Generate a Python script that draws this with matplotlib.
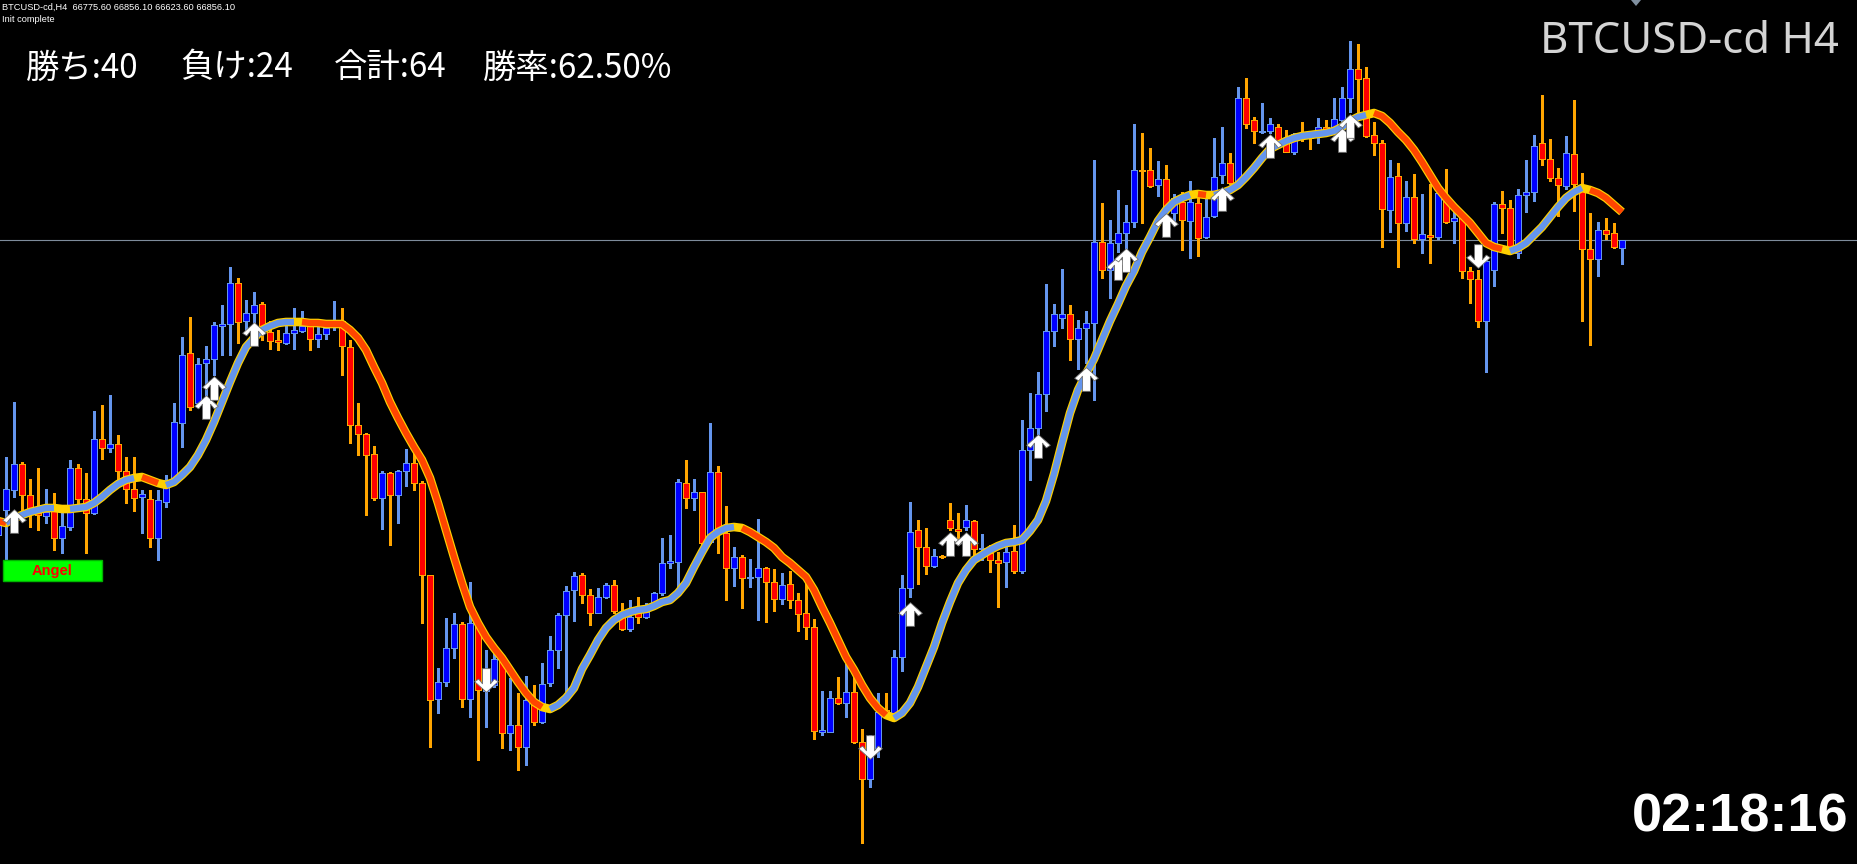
import matplotlib
matplotlib.use("Agg")
import matplotlib.pyplot as plt
import numpy as np
from matplotlib.path import Path
from matplotlib.patches import Rectangle, Polygon

# ---------------- data ----------------
opens = [63910, 64160, 64360, 64620, 64310, 64130, 64100, 64190, 63880, 63990,
         64580, 64270, 64130, 64870, 64780, 64820, 64550, 64370, 64290, 64270,
         63880, 64240, 64460, 65030, 65730, 65230, 65630, 65670, 66000, 66020,
         66430, 66050, 66130, 66220, 65940, 65860, 65830, 65930, 65950, 66000,
         65870, 65920, 65990, 66050, 65790, 65010, 64920, 64720, 64280, 64530,
         64310, 64550, 64630, 64430, 63510, 62270, 62440, 62780, 63020, 62270,
         63020, 62350, 62410, 62670, 61930, 62010, 61790, 62260, 62040, 62430,
         62760, 63110, 63360, 63510, 63310, 63130, 63290, 63410, 63140, 62970,
         63140, 63090, 63190, 63330, 63630, 63640, 64430, 64280, 64340, 63840,
         64540, 63930, 63580, 63690, 63480, 63490, 63580, 63440, 63270, 63420,
         63260, 63130, 62990, 61940, 61940, 62280, 62230, 62340, 61840, 61470,
         61780, 62160, 62130, 62690, 63380, 63960, 63790, 63600, 63700, 64060,
         63970, 63990, 64050, 63770, 63730, 63660, 63640, 63750, 63550, 64760,
         64980, 65320, 65950, 66080, 66120, 65870, 65980, 66030, 66840, 66560,
         66830, 66930, 67040, 67560, 67560, 67410, 67470, 67130, 67240, 67050,
         67230, 66890, 67100, 67510, 67630, 67430, 68280, 68060, 67940, 67950,
         67990, 67850, 67740, 67930, 67910, 67950, 67990, 67970, 68060, 68280,
         68570, 68480, 67910, 67830, 67160, 67500, 67030, 67290, 66870, 66910,
         66890, 67260, 67050, 67080, 66550, 66470, 66050, 66560, 67220, 67180,
         66730, 67310, 67340, 67830, 67670, 67480, 67400, 67720, 67410, 66770,
         66670, 66960, 66930, 66775.6]

highs = [64080, 64690, 65240, 64640, 64470, 64580, 64370, 64330, 64190, 64660,
         64620, 64530, 65150, 65210, 65310, 64910, 64690, 64690, 64360, 64360,
         64360, 64510, 65230, 65890, 66090, 65680, 65800, 66040, 66210, 66590,
         66480, 66260, 66340, 66240, 66050, 65960, 66010, 66180, 66150, 66060,
         66010, 66040, 66250, 66180, 65860, 65230, 64930, 64800, 64550, 64540,
         64560, 64770, 64730, 64450, 63510, 62580, 63080, 63130, 63040, 63440,
         63020, 62760, 62760, 62690, 62480, 62330, 62500, 62410, 62630, 62900,
         63130, 63400, 63540, 63530, 63370, 63380, 63430, 63460, 63230, 63260,
         63290, 63230, 63340, 63880, 63910, 64470, 64660, 64470, 64340, 65030,
         64600, 64200, 63790, 63710, 63670, 64070, 63590, 63570, 63530, 63550,
         63330, 63430, 63070, 62350, 62350, 62490, 62620, 62530, 61970, 61910,
         62330, 62330, 62760, 63510, 64240, 64060, 63980, 63770, 63710, 64230,
         64130, 64210, 64060, 63920, 63810, 63740, 63830, 64010, 65060, 65330,
         65540, 66420, 66220, 66570, 66210, 66060, 66150, 67660, 67230, 67060,
         67360, 67210, 68020, 67930, 67780, 67650, 67610, 67320, 67340, 67450,
         67310, 67330, 67880, 67990, 67730, 68390, 68480, 68090, 68230, 68080,
         68020, 67960, 67930, 68040, 67930, 68080, 68060, 68280, 68390, 68850,
         68820, 68590, 68040, 67860, 67660, 67630, 67450, 67520, 67320, 67420,
         67360, 67570, 67160, 67090, 66590, 66560, 66660, 67240, 67350, 67260,
         67370, 67660, 67910, 68310, 67870, 67580, 67900, 68260, 67530, 67130,
         67040, 67080, 67030, 66856.1]

lows = [63760, 63480, 64290, 64160, 63990, 63960, 64030, 63760, 63730, 63960,
        64160, 63730, 64120, 64670, 64740, 64440, 64230, 64150, 63930, 63790,
        63660, 64190, 64440, 64790, 65160, 65190, 65290, 65510, 65710, 65710,
        65830, 65960, 66030, 65860, 65770, 65760, 65820, 65770, 65940, 65760,
        65790, 65870, 65960, 65510, 64830, 64710, 64110, 64260, 63970, 63810,
        64030, 64400, 64360, 63030, 61790, 62130, 62400, 62680, 62190, 62090,
        61660, 61990, 62390, 61780, 61760, 61560, 61610, 62010, 62030, 62400,
        62580, 62330, 63050, 63230, 63010, 63130, 63280, 63130, 62960, 62950,
        63030, 63080, 63180, 63310, 63580, 63390, 64180, 64160, 63740, 63830,
        63730, 63260, 63400, 63180, 63390, 63060, 63040, 63150, 63220, 63180,
        62950, 62870, 61870, 61910, 61940, 62220, 62090, 61830, 60830, 61390,
        61690, 62110, 62130, 62550, 63290, 63420, 63520, 63590, 63680, 63960,
        63860, 63960, 63660, 63660, 63540, 63190, 63390, 63530, 63530, 64460,
        64920, 65150, 65800, 65980, 65660, 65570, 65630, 65260, 66480, 66280,
        66740, 66700, 66990, 67030, 67390, 67300, 67090, 67050, 66760, 66680,
        66700, 66880, 67090, 67430, 67420, 67410, 67980, 67830, 67930, 67930,
        67830, 67740, 67720, 67850, 67770, 67830, 67930, 67960, 68040, 68140,
        68140, 67890, 67710, 66790, 66940, 66590, 66950, 66830, 66730, 66630,
        66870, 67030, 66830, 66480, 66230, 65990, 65540, 66400, 66930, 66720,
        66680, 67140, 67250, 67610, 67450, 67100, 67370, 67150, 66050, 65810,
        66500, 66870, 66780, 66623.6]

closes = [64010, 64370, 64620, 64310, 64160, 64110, 64140, 63880, 64000, 64580,
          64270, 64130, 64870, 64780, 64820, 64550, 64370, 64280, 64320, 63880,
          64260, 64460, 65040, 65710, 65190, 65620, 65670, 66010, 66020, 66430,
          66040, 66130, 66210, 65940, 65850, 65840, 65930, 65960, 66000, 65870,
          65920, 65980, 66040, 65800, 65010, 64920, 64710, 64280, 64530, 64310,
          64550, 64630, 64430, 63510, 62260, 62440, 62780, 63020, 62270, 63030,
          62360, 62380, 62670, 61930, 62010, 61790, 62260, 62040, 62420, 62760,
          63110, 63350, 63500, 63310, 63130, 63290, 63410, 63150, 62970, 63090,
          63090, 63140, 63330, 63630, 63650, 64440, 64280, 64340, 63830, 64540,
          63930, 63580, 63690, 63480, 63490, 63580, 63440, 63270, 63410, 63260,
          63120, 62990, 61950, 61960, 62280, 62230, 62340, 61840, 61470, 61760,
          62140, 62130, 62690, 63380, 63940, 63790, 63600, 63700, 63690, 63980,
          63950, 64060, 63770, 63780, 63660, 63630, 63740, 63550, 64760, 64980,
          65320, 65950, 66120, 66120, 65870, 65980, 66030, 66840, 66560, 66830,
          66930, 67040, 67560, 67550, 67400, 67470, 67160, 67280, 67060, 67240,
          66880, 67090, 67490, 67630, 67430, 68280, 68020, 67950, 67950, 68020,
          67850, 67740, 67920, 67890, 67880, 67990, 67960, 68070, 68280, 68570,
          68470, 67900, 67830, 67170, 67490, 67030, 67290, 66870, 66920, 66890,
          67330, 67040, 67080, 66550, 66470, 66050, 66650, 67220, 67180, 66730,
          67310, 67340, 67800, 67670, 67480, 67410, 67730, 67420, 66770, 66670,
          66960, 66920, 66790, 66856.1]

# moving average indicator buffer
ma = [64050, 64030, 64080, 64110, 64140, 64160, 64180, 64180, 64170, 64170,
      64180, 64190, 64230, 64290, 64360, 64420, 64460, 64480, 64490, 64460,
      64430, 64410, 64440, 64510, 64590, 64710, 64860, 65040, 65240, 65440,
      65630, 65790, 65880, 65960, 66000, 66030, 66040, 66040, 66040, 66030,
      66030, 66020, 66020, 66020, 65960, 65880, 65760, 65590, 65430, 65240,
      65080, 64930, 64790, 64660, 64480, 64230, 63960, 63690, 63430, 63190,
      63030, 62890, 62780, 62680, 62560, 62440, 62330, 62240, 62190, 62170,
      62210, 62280, 62380, 62570, 62710, 62860, 62980, 63060, 63110, 63140,
      63160, 63170, 63200, 63240, 63260, 63330, 63430, 63590, 63740, 63880,
      63940, 63980, 63990, 63980, 63940, 63890, 63840, 63780, 63690, 63630,
      63560, 63490, 63360, 63190, 63030, 62860, 62690, 62560, 62410, 62280,
      62180, 62110, 62080, 62130, 62230, 62390, 62590, 62790, 63030, 63240,
      63430, 63560, 63660, 63710, 63760, 63800, 63830, 63840, 63860, 63950,
      64060, 64250, 64520, 64830, 65130, 65360, 65520, 65670, 65860, 66050,
      66220, 66400, 66550, 66740, 66890, 67050, 67160, 67240, 67280, 67310,
      67320, 67310, 67310, 67330, 67360, 67410, 67490, 67580, 67680, 67770,
      67810, 67850, 67880, 67900, 67910, 67920, 67930, 67950, 67990, 68050,
      68090, 68110, 68130, 68100, 68030, 67940, 67860, 67760, 67640, 67510,
      67380, 67280, 67190, 67110, 67030, 66930, 66830, 66790, 66770, 66750,
      66780, 66830, 66910, 66990, 67090, 67190, 67280, 67340, 67380, 67360,
      67330, 67280, 67210, 67140]

# indicator state per bar: 1 rising, -1 falling, 0 neutral
ma_trend = [-1, -1, 1, 1, 1, 1, 1, 1, 0, 0,
            1, 1, 1, 1, 1, 1, 1, 1, 0, -1,
            -1, 0, 1, 1, 1, 1, 1, 1, 1, 1,
            1, 1, 1, 1, 1, 1, 1, 1, 0, -1,
            -1, -1, -1, -1, -1, -1, -1, -1, -1, -1,
            -1, -1, -1, -1, -1, -1, -1, -1, -1, -1,
            -1, -1, -1, -1, -1, -1, -1, -1, -1, 0,
            1, 1, 1, 1, 1, 1, 1, 1, 1, 1,
            1, 1, 1, 1, 1, 1, 1, 1, 1, 1,
            1, 1, 1, 0, -1, -1, -1, -1, -1, -1,
            -1, -1, -1, -1, -1, -1, -1, -1, -1, -1,
            -1, -1, 0, 1, 1, 1, 1, 1, 1, 1,
            1, 1, 1, 1, 1, 1, 1, 1, 1, 1,
            1, 1, 1, 1, 1, 1, 1, 1, 1, 1,
            1, 1, 1, 1, 1, 1, 1, 1, 1, 1,
            0, -1, 0, 1, 1, 1, 1, 1, 1, 1,
            1, 1, 1, 1, 1, 1, 1, 1, 1, 1,
            1, 1, 0, -1, -1, -1, -1, -1, -1, -1,
            -1, -1, -1, -1, -1, -1, -1, -1, -1, 0,
            1, 1, 1, 1, 1, 1, 1, 1, 1, 0,
            -1, -1, -1, -1]

buy_bars = [2, 26, 27, 32, 114, 119, 121, 130, 136, 140, 141, 146, 153, 159, 168, 169]
buy_prices = [64050, 65190, 65380, 65920, 63120, 63820, 63820, 64800, 65470,
              66580, 66660, 67010, 67270, 67800, 67860, 68000]
sell_bars = [61, 109, 185]
sell_prices = [62460, 61790, 66700]

bid_price = 66856.1
stats_labels = ["勝ち:40", "負け:24", "合計:64", "勝率:62.50%"]
symbol_title = "BTCUSD-cd H4"
header_line = "BTCUSD-cd,H4  66775.60 66856.10 66623.60 66856.10"
status_line = "Init complete"
clock_text = "02:18:16"
badge_text = "Angel"

# ---------------- figure ----------------
W, H = 1858, 864
fig = plt.figure(figsize=(W / 100, H / 100), dpi=100)
fig.patch.set_facecolor("black")
ax = fig.add_axes([0, 0, 1, 1])
ax.set_facecolor("black")
ax.set_axis_off()

n = len(opens)
idx = np.arange(n)
o = np.array(opens, float)
h = np.array(highs, float)
l = np.array(lows, float)
c = np.array(closes, float)
bull = c >= o

BULL_FILL, BULL_EDGE = "#0000FF", "#6495ED"
BEAR_FILL, BEAR_EDGE = "#FF0000", "#FFA500"

ax.set_xlim(0.25, 0.25 + W / 8.0)
ax.set_ylim(60620, 69260)

ax.axhline(bid_price, color="#7E8C9C", lw=0.8, zorder=1)

wick_cols = [BULL_EDGE if b else BEAR_EDGE for b in bull]
ax.vlines(idx, l, h, colors=wick_cols, lw=0.8, zorder=2, antialiased=False)

body_bottom = np.minimum(o, c)
body_h = np.abs(c - o)
ax.bar(idx, body_h, bottom=body_bottom, width=0.64,
       color=[BULL_FILL if b else BEAR_FILL for b in bull],
       edgecolor=wick_cols, lw=0.7, zorder=3, antialiased=False)

# moving average: gold underlay, colored runs on top
ma_arr = np.array(ma, float)
ax.plot(idx, ma_arr, color="#FFD000", lw=6.2, solid_capstyle="butt",
        solid_joinstyle="round", zorder=4)
UP_COL, DN_COL = "#6495ED", "#FF4500"
i = 0
while i < n:
    t = ma_trend[i]
    if t == 0:
        i += 1
        continue
    j = i
    while j + 1 < n and ma_trend[j + 1] == t:
        j += 1
    s = max(i - 1, 0)
    ax.plot(idx[s:j + 1], ma_arr[s:j + 1], color=UP_COL if t > 0 else DN_COL,
            lw=4.5, solid_capstyle="butt", solid_joinstyle="round", zorder=5)
    i = j + 1

# signal arrows
up_verts = [(0, 1), (1, 0.1), (0.66, -0.12), (0.34, 0.28), (0.34, -1),
            (-0.34, -1), (-0.34, 0.28), (-0.66, -0.12), (-1, 0.1), (0, 1)]
codes = [Path.MOVETO] + [Path.LINETO] * 8 + [Path.CLOSEPOLY]
up_path = Path(up_verts, codes)
dn_path = Path([(x, -y) for x, y in up_verts], codes)
ax.plot(buy_bars, buy_prices, ls="none", marker=up_path, ms=17,
        mfc="white", mec="#707070", mew=0.6, zorder=6)
ax.plot(sell_bars, sell_prices, ls="none", marker=dn_path, ms=17,
        mfc="white", mec="#707070", mew=0.6, zorder=6)


def fx(px):
    return px / W


def fy(py):
    return 1 - py / H


# header texts
fig.text(fx(2), fy(7), header_line, color="white", fontsize=6.7,
         family="Liberation Sans", ha="left", va="center")
fig.text(fx(2), fy(20), status_line, color="white", fontsize=6.7,
         family="Liberation Sans", ha="left", va="center")

stat_x = [26, 180, 334, 483]
for sx, lab in zip(stat_x, stats_labels):
    fig.text(fx(sx), fy(68), lab, color="white", fontsize=24,
             family=["Noto Sans CJK JP", "DejaVu Sans"], ha="left", va="center")

fig.text(fx(1839), fy(53), symbol_title, color="#D4D4D4", fontsize=31.5,
         family="Noto Sans", ha="right", va="baseline")

fig.text(fx(1849), fy(832), clock_text, color="white", fontsize=39,
         family="Liberation Sans", weight="bold", ha="right", va="baseline")

# chart shift marker
fig.patches.append(Polygon([(fx(1631), fy(0)), (fx(1641), fy(0)), (fx(1636), fy(6))],
                           closed=True, facecolor="#8090A0", edgecolor="none",
                           transform=fig.transFigure, figure=fig))

# badge
fig.patches.append(Rectangle((fx(3), fy(581)), 99 / W, 21 / H, facecolor="#00FF00",
                             edgecolor="#00B400", lw=1.0,
                             transform=fig.transFigure, figure=fig))
fig.text(fx(52.5), fy(570.5), badge_text, color="#FF0000", fontsize=10.5,
         family="Liberation Sans", weight="bold", ha="center", va="center")

fig.savefig("out.png", dpi=100, facecolor="black")
